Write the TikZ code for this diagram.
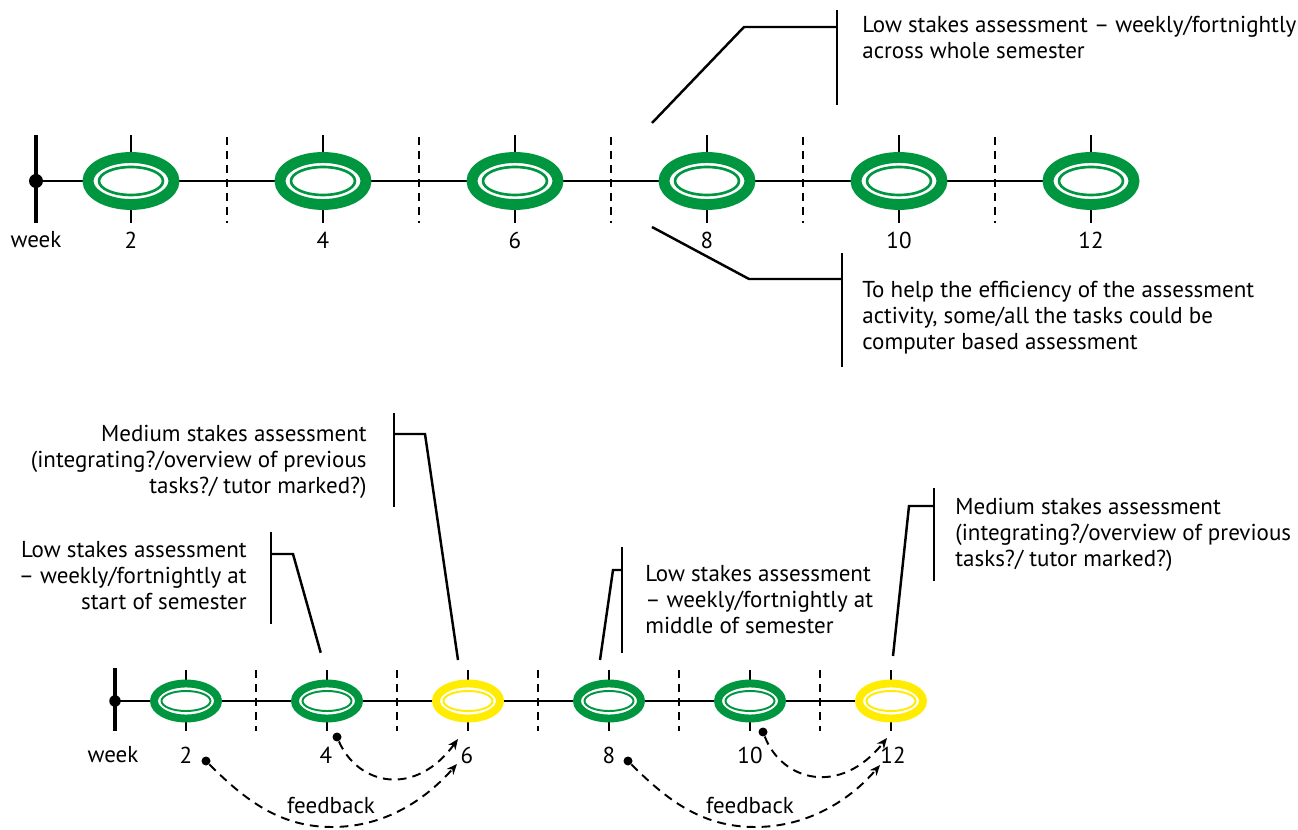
\documentclass[tikz,border=0pt]{standalone}
\usepackage{xcolor}
\usepackage{fontspec}
\setmainfont{PT Sans}
\usepackage{tikz}
\usetikzlibrary{shapes.geometric,arrows.meta}

\definecolor{lowgreen}{RGB}{0,150,64}
\definecolor{medyellow}{RGB}{255,236,0}

\tikzset{
  bigring/.style={ellipse, draw=#1, line width=6.2pt, fill=white, minimum width=1.72cm, minimum height=0.94cm, inner sep=0pt},
  bigcore/.style={ellipse, draw=#1, line width=1.5pt, minimum width=1.28cm, minimum height=0.56cm, inner sep=0pt},
  smallring/.style={ellipse, draw=#1, line width=4.5pt, fill=white, minimum width=1.28cm, minimum height=0.70cm, inner sep=0pt},
  smallcore/.style={ellipse, draw=#1, line width=1.1pt, minimum width=0.98cm, minimum height=0.40cm, inner sep=0pt},
  weekgap/.style={line width=1.3pt, dash pattern=on 4.5pt off 3.5pt},
  tickline/.style={line width=1.1pt},
  callout/.style={line width=1.4pt},
  fbline/.style={line width=1.1pt, dash pattern=on 5pt off 3.5pt, -{Stealth[length=6pt,width=5pt]}},
  fbdot/.style={circle, fill=black, inner sep=0pt, minimum size=0.18cm},
  note/.style={font=\fontsize{13.1}{14.75}\selectfont, inner sep=0pt},
  num/.style={font=\fontsize{13.1}{14.75}\selectfont, inner sep=1pt}
}

\begin{document}
\begin{tikzpicture}[x=0.02cm, y=-0.02cm]
\useasboundingbox (0,0) rectangle (1298,830);

% ---- top timeline: whole semester
\coordinate (tw) at (36,181);
\coordinate (tend) at (1091,181);
\draw[line width=2.8pt] (36,135) -- (36,223);
\draw[tickline] (tw) -- (tend);
\foreach \x in {227,419,611,803,995}
  \draw[weekgap] (\x,137) -- (\x,223);
\foreach \w/\x in {2/131,4/323,6/515,8/707,10/899,12/1091}{
  \draw[tickline] (\x,135) -- (\x,223);
  \node[bigring=lowgreen] (t\w) at (\x,181) {};
  \node[bigcore=lowgreen] (t\w c) at (t\w) {};
  \node[num] (tl\w) at (\x,240) {\w};
}
\node[fbdot, minimum size=0.28cm] (twd) at (tw) {};
\node[num] (tlw) at (36,240) {week};

% callouts for the top timeline
\node[note, anchor=north west, align=left] (tn1) at (862,16) {Low stakes assessment -- weekly/fortnightly\\across whole semester};
\node[note, anchor=north west, align=left] (tn2) at (862,281) {To help the efficiency of the assessment\\activity, some/all the tasks could be\\computer based assessment};
\coordinate (b1t) at (837,10);
\coordinate (b1b) at (837,105);
\coordinate (b1k) at (744,27);
\coordinate (b1e) at (652,123);
\draw[callout] (b1t) -- (b1b);
\draw[callout] (837,27) -- (b1k) -- (b1e);
\coordinate (b2t) at (842,253);
\coordinate (b2b) at (842,367);
\coordinate (b2k) at (749,279);
\coordinate (b2e) at (652,227);
\draw[callout] (b2t) -- (b2b);
\draw[callout] (842,279) -- (b2k) -- (b2e);

% ---- bottom timeline: low and medium stakes
\coordinate (bw) at (115,701);
\coordinate (bend) at (891,701);
\draw[line width=2.2pt] (115,668) -- (115,731);
\draw[tickline] (bw) -- (bend);
\foreach \x in {256,397,538,679,820}
  \draw[weekgap] (\x,670) -- (\x,731);
\foreach \w/\x/\c in {2/186/lowgreen,4/327/lowgreen,6/468/medyellow,8/609/lowgreen,10/750/lowgreen,12/891/medyellow}{
  \draw[tickline] (\x,670) -- (\x,731);
  \node[smallring=\c] (s\w) at (\x,701) {};
  \node[smallcore=\c] (s\w c) at (s\w) {};
}
\node[fbdot, minimum size=0.23cm] (bwd) at (bw) {};
\node[num] (blw) at (113,755) {week};
\node[num] (bl2) at (186,755) {2};
\node[num] (bl4) at (326,755) {4};
\node[num] (bl6) at (467,755) {6};
\node[num] (bl8) at (609,755) {8};
\node[num] (bl10) at (750,755) {10};
\node[num] (bl12) at (893,755) {12};

% callouts for the bottom timeline
\node[note, anchor=north east, align=right] (na) at (247,541) {Low stakes assessment\\-- weekly/fortnightly at\\start of semester};
\node[note, anchor=north east, align=right] (nb) at (367,425) {Medium stakes assessment\\(integrating?/overview of previous\\tasks?/ tutor marked?)};
\node[note, anchor=north west, align=left] (nc) at (645,565) {Low stakes assessment\\-- weekly/fortnightly at\\middle of semester};
\node[note, anchor=north west, align=left] (nd) at (955,498) {Medium stakes assessment\\(integrating?/overview of previous\\tasks?/ tutor marked?)};
\draw[callout] (271,532) -- (271,624);
\draw[callout] (271,554) -- (293,554) -- (320.7,652.7);
\draw[callout] (394,413) -- (394,507);
\draw[callout] (394,434) -- (425,434) -- (458,660);
\draw[callout] (622,547) -- (622,653);
\draw[callout] (622,570) -- (613,570) -- (600,660);
\draw[callout] (934,488) -- (934,581);
\draw[callout] (934,506) -- (909,506) -- (893,656);

% feedback loops
\node[fbdot] (fb2) at (206,761) {};
\node[fbdot] (fb4) at (337,737) {};
\node[fbdot] (fb8) at (628,761) {};
\node[fbdot] (fb10) at (763,732) {};
\coordinate (fe6a) at (457,764);
\coordinate (fe6b) at (458,739);
\coordinate (fe12a) at (880,765);
\coordinate (fe12b) at (887,738);
\draw[fbline] (fb2) .. controls (245,800) and (280,827) .. (332,827) .. controls (385,827) and (425,800) .. (fe6a);
\draw[fbline] (fb4) .. controls (358,785) and (415,798) .. (fe6b);
\draw[fbline] (fb8) .. controls (667,800) and (702,827) .. (755,827) .. controls (808,827) and (850,800) .. (fe12a);
\draw[fbline] (fb10) .. controls (782,781) and (840,797) .. (fe12b);
\node[num] (fbt1) at (331,806) {feedback};
\node[num] (fbt2) at (750,806) {feedback};
\end{tikzpicture}
\end{document}
